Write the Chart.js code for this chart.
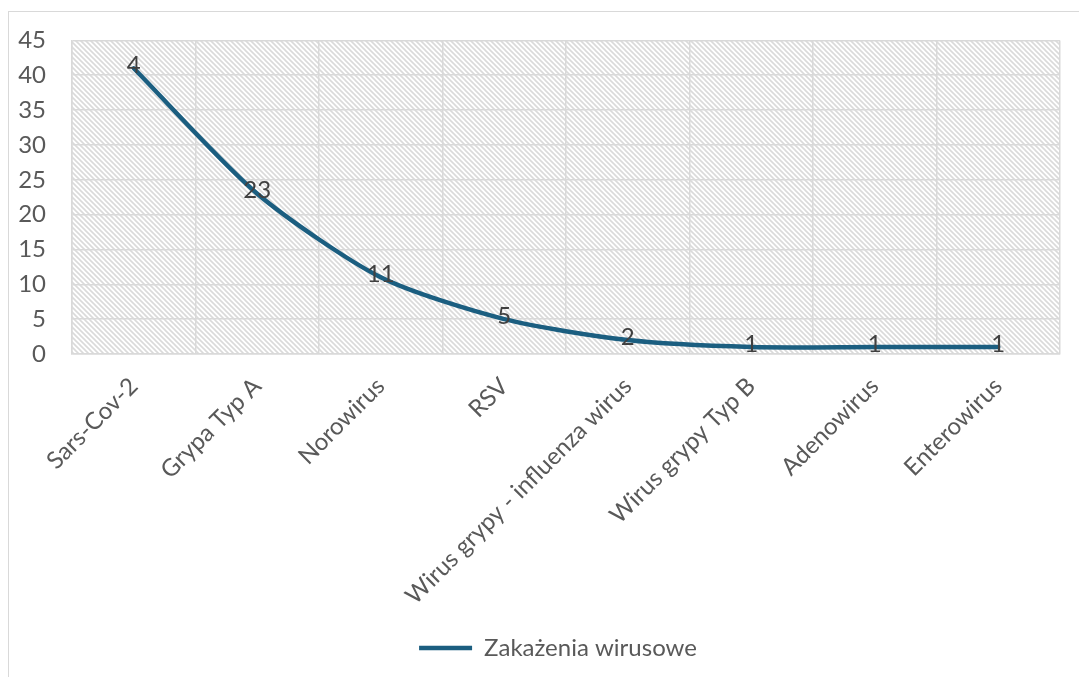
<!DOCTYPE html>
<html>
<head>
<meta charset="utf-8">
<script src="https://cdn.jsdelivr.net/npm/chart.js@4"></script>
<style>
  html, body { margin: 0; padding: 0; background: #fff; overflow: hidden; }
  #frame { position: absolute; left: 8px; top: 11px; width: 1200px; height: 800px; border: 1.5px solid #d9d9d9; }
  #wrap { position: absolute; left: 0; top: 0; width: 1079px; height: 677px; }
</style>
</head>
<body>
<div id="frame"></div>
<div id="wrap"><canvas id="chart"></canvas></div>
<script>
const categories = ['Sars-Cov-2', 'Grypa Typ A', 'Norowirus', 'RSV', 'Wirus grypy - influenza wirus', 'Wirus grypy Typ B', 'Adenowirus', 'Enterowirus'];
const infections = [41, 23, 11, 5, 2, 1, 1, 1];
const pointLabels = ['4', '23', '11', '5', '2', '1', '1', '1'];
const yTicks = [0, 5, 10, 15, 20, 25, 30, 35, 40, 45];

const TEXT = '#595959';
const GRID = '#d9d9d9';
const LINE = '#1b5e80';
const FONT = 'Lato';

// ── hatch pattern for the plot area ─────────────────────────────────────────
function makeHatch() {
  const s = 5;
  const c = document.createElement('canvas');
  c.width = s; c.height = s;
  const g = c.getContext('2d');
  g.strokeStyle = '#dadada';
  g.lineWidth = 1.6;
  g.beginPath();
  g.moveTo(-1, -1); g.lineTo(s + 1, s + 1);
  g.moveTo(-1, s - 1); g.lineTo(1, s + 1);
  g.moveTo(s - 1, -1); g.lineTo(s + 1, 1);
  g.stroke();
  return g.createPattern(c, 'repeat');
}

const hatchBg = {
  id: 'hatchBg',
  afterLayout(chart) {
    // the legend sits centred on the outer frame, a bit right of the canvas centre
    chart.legend.left += 28;
    chart.legend.right += 28;
  },
  beforeDraw(chart) {
    const { ctx, chartArea: a } = chart;
    ctx.save();
    ctx.fillStyle = makeHatch();
    ctx.fillRect(a.left, a.top, a.right - a.left, a.bottom - a.top);
    ctx.restore();
  },
};

// ── value labels on points ──────────────────────────────────────────────────
const valueLabels = {
  id: 'valueLabels',
  afterDatasetsDraw(chart) {
    const { ctx } = chart;
    const meta = chart.getDatasetMeta(0);
    ctx.save();
    ctx.font = `24px ${FONT}`;
    ctx.fillStyle = '#404040';
    ctx.textAlign = 'center';
    ctx.textBaseline = 'middle';
    meta.data.forEach((pt, i) => {
      ctx.fillText(pointLabels[i], pt.x, pt.y - 3);
    });
    ctx.restore();
  },
};

new Chart(document.getElementById('chart'), {
  type: 'line',
  data: {
    labels: categories,
    datasets: [{
      label: 'Zakażenia wirusowe',
      data: infections,
      borderColor: LINE,
      backgroundColor: LINE,
      borderWidth: 4.5,
      tension: 0.25,
      pointRadius: 0,
      borderCapStyle: 'round',
    }],
  },
  options: {
    responsive: true,
    maintainAspectRatio: false,
    animation: false,
    layout: { padding: { top: 40, right: 19, bottom: 7, left: 0 } },
    scales: {
      x: {
        offset: true,
        grid: { color: GRID, lineWidth: 1.5, offset: true, drawTicks: false },
        border: { color: GRID, width: 1.5 },
        ticks: { color: TEXT, font: { family: FONT, size: 24 }, maxRotation: 45, minRotation: 45, padding: 18, autoSkip: false },
        afterFit(s) { s.height = 272; },
      },
      y: {
        min: 0, max: 45,
        afterBuildTicks(s) { s.ticks = yTicks.map(v => ({ value: v })); },
        grid: { color: GRID, lineWidth: 1.5, drawTicks: false },
        border: { color: GRID, width: 1.5 },
        ticks: { color: TEXT, font: { family: FONT, size: 24 }, padding: 26 },
        afterFit(s) { s.width = 72; },
      },
    },
    plugins: {
      legend: {
        position: 'bottom',
        labels: {
          color: TEXT,
          font: { family: FONT, size: 24 },
          usePointStyle: true,
          pointStyle: 'line',
          pointStyleWidth: 53,
          padding: 10,
        },
      },
      tooltip: { enabled: false },
    },
  },
  plugins: [hatchBg, valueLabels],
});
</script>
</body>
</html>
